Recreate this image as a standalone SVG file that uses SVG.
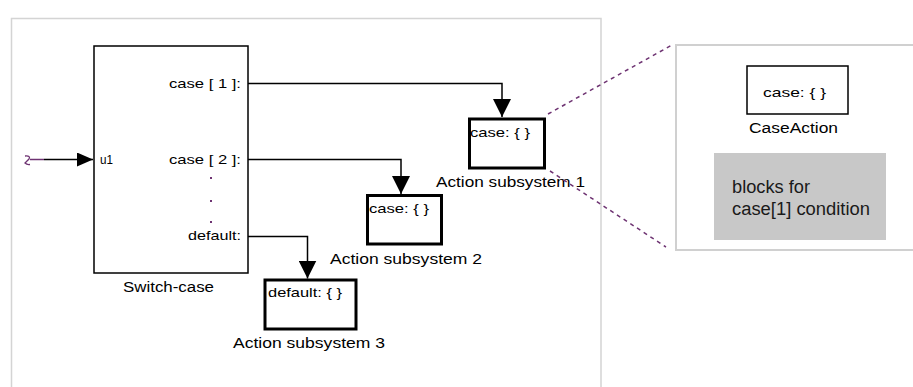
<svg xmlns="http://www.w3.org/2000/svg" width="913" height="387" viewBox="0 0 913 387">
<style>
  text { font-family: "Liberation Sans", Arial, sans-serif; fill: #000; }
  .lbl { font-size: 13px; }
  .blk { font-size: 14px; }
  .big { font-size: 18px; fill: #1a1a1a; }
  .thin { fill: #fff; stroke: #000; stroke-width: 1.5; }
  .thick { fill: #fff; stroke: #000; stroke-width: 3; }
  .wire { fill: none; stroke: #000; stroke-width: 1.5; }
  .zoomline { fill: none; stroke: #6e3372; stroke-width: 1.5; stroke-dasharray: 4 4; }
</style>
<defs>
  <marker id="ahR" markerWidth="16" markerHeight="14" refX="16" refY="7" orient="auto" markerUnits="userSpaceOnUse">
    <path d="M0,0 L16,7 L0,14 Z" fill="#000"/>
  </marker>
  <marker id="ahD" markerWidth="18" markerHeight="18" refX="18" refY="9" orient="auto" markerUnits="userSpaceOnUse">
    <path d="M0,0 L18,9 L0,18 Z" fill="#000"/>
  </marker>
</defs>
<rect width="913" height="387" fill="#fff"/>
<g id="frame">
  <path d="M11.5,400 L11.5,18.5 L601,18.5 L601,400" fill="none" stroke="#d4d4d4" stroke-width="1.5"/>
</g>
<g id="zoom-panel">
  <rect x="676" y="45" width="245" height="205" fill="#fff" stroke="#d0d0d0" stroke-width="2"/>
  <rect x="714" y="153" width="172" height="87" fill="#c8c8c8"/>
  <text class="big" x="732" y="193" textLength="78" lengthAdjust="spacingAndGlyphs">blocks for</text>
  <text class="big" x="732" y="215" textLength="138" lengthAdjust="spacingAndGlyphs">case[1] condition</text>
</g>
<g id="caseaction">
  <rect class="thin" x="747" y="66" width="101" height="48"/>
  <text class="lbl" x="763" y="97" textLength="63" lengthAdjust="spacingAndGlyphs">case: { }</text>
  <text class="blk" x="749" y="133" textLength="89" lengthAdjust="spacingAndGlyphs">CaseAction</text>
</g>
<g id="switch-case">
  <rect class="thin" x="94" y="46" width="154" height="227"/>
  <text class="lbl" x="100" y="164" textLength="13" lengthAdjust="spacingAndGlyphs">u1</text>
  <text class="lbl" x="169" y="88" textLength="72" lengthAdjust="spacingAndGlyphs">case [ 1 ]:</text>
  <text class="lbl" x="169" y="164" textLength="72" lengthAdjust="spacingAndGlyphs">case [ 2 ]:</text>
  <text class="lbl" x="188" y="240" textLength="53" lengthAdjust="spacingAndGlyphs">default:</text>
  <g fill="#6e3372">
    <rect x="210" y="177" width="2" height="2"/>
    <rect x="210" y="200" width="2" height="2"/>
    <rect x="210" y="221" width="2" height="2"/>
  </g>
  <text class="blk" x="123" y="292" textLength="91" lengthAdjust="spacingAndGlyphs">Switch-case</text>
</g>
<g id="action1">
  <rect class="thick" x="469.5" y="119" width="75" height="49"/>
  <text class="lbl" x="470" y="137" textLength="60" lengthAdjust="spacingAndGlyphs">case: { }</text>
  <text class="blk" x="436" y="187" textLength="149" lengthAdjust="spacingAndGlyphs">Action subsystem 1</text>
</g>
<g id="action2">
  <rect class="thick" x="367.5" y="195.5" width="74" height="48.5"/>
  <text class="lbl" x="369" y="213" textLength="60" lengthAdjust="spacingAndGlyphs">case: { }</text>
  <text class="blk" x="330" y="264" textLength="152" lengthAdjust="spacingAndGlyphs">Action subsystem 2</text>
</g>
<g id="action3">
  <rect class="thick" x="265" y="280" width="91" height="49"/>
  <text class="lbl" x="268" y="297" textLength="74" lengthAdjust="spacingAndGlyphs">default: { }</text>
  <text class="blk" x="233" y="348" textLength="152" lengthAdjust="spacingAndGlyphs">Action subsystem 3</text>
</g>
<g id="connectors">
  <path d="M25,156 Q31,155.5 29,159 Q26,162 25,163 Q27,165 30,164.5" fill="none" stroke="#6e3372" stroke-width="1.3"/>
  <path d="M30,159.5 L44,159.5" fill="none" stroke="#6e3372" stroke-width="1.5"/>
  <path class="wire" d="M44,159.5 L93,159.5" stroke="#333" marker-end="url(#ahR)"/>
  <path class="wire" d="M248,83.5 L502,83.5 L502,117" marker-end="url(#ahD)"/>
  <path class="wire" d="M248,159.5 L401,159.5 L401,194" marker-end="url(#ahD)"/>
  <path class="wire" d="M248,236.5 L307.5,236.5 L307.5,278.5" marker-end="url(#ahD)"/>
  <path class="zoomline" d="M548,114 L672,45"/>
  <path class="zoomline" d="M550,171 L666,247"/>
</g>
</svg>
